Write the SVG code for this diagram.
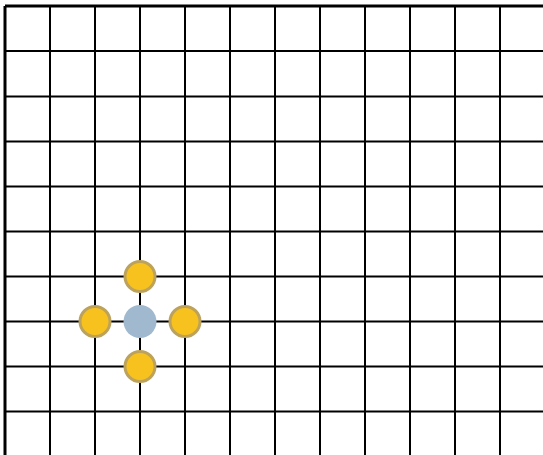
<svg xmlns="http://www.w3.org/2000/svg" width="543" height="455" viewBox="0 0 543 455">
<style>
.g line{stroke:#000;stroke-width:2}
.y{fill:#F8C21E;stroke:#BCA25A;stroke-width:3}
.b{fill:#A0B9CF}
</style>
<rect width="543" height="455" fill="#fff"/>
<g id="connectors" class="g">
<line x1="5" y1="51" x2="543" y2="51"/>
<line x1="5" y1="96.5" x2="543" y2="96.5"/>
<line x1="5" y1="141.5" x2="543" y2="141.5"/>
<line x1="5" y1="186.5" x2="543" y2="186.5"/>
<line x1="5" y1="231.5" x2="543" y2="231.5"/>
<line x1="5" y1="276.5" x2="543" y2="276.5"/>
<line x1="5" y1="321.5" x2="543" y2="321.5"/>
<line x1="5" y1="366.5" x2="543" y2="366.5"/>
<line x1="5" y1="411.5" x2="543" y2="411.5"/>
<line x1="50" y1="6" x2="50" y2="455"/>
<line x1="95" y1="6" x2="95" y2="455"/>
<line x1="140" y1="6" x2="140" y2="455"/>
<line x1="185" y1="6" x2="185" y2="455"/>
<line x1="230" y1="6" x2="230" y2="455"/>
<line x1="275" y1="6" x2="275" y2="455"/>
<line x1="320" y1="6" x2="320" y2="455"/>
<line x1="365" y1="6" x2="365" y2="455"/>
<line x1="410" y1="6" x2="410" y2="455"/>
<line x1="455" y1="6" x2="455" y2="455"/>
<line x1="500" y1="6" x2="500" y2="455"/>
<line x1="5" y1="6" x2="543" y2="6" style="stroke-width:3"/>
<line x1="5" y1="6" x2="5" y2="455" style="stroke-width:3"/>
</g>
<g id="center"><circle class="b" cx="140" cy="321.5" r="16.5"/></g>
<g id="top"><circle class="y" cx="140" cy="276.5" r="15"/></g>
<g id="bottom"><circle class="y" cx="140" cy="366.5" r="15"/></g>
<g id="left"><circle class="y" cx="95" cy="321.5" r="15"/></g>
<g id="right"><circle class="y" cx="185" cy="321.5" r="15"/></g>
</svg>
